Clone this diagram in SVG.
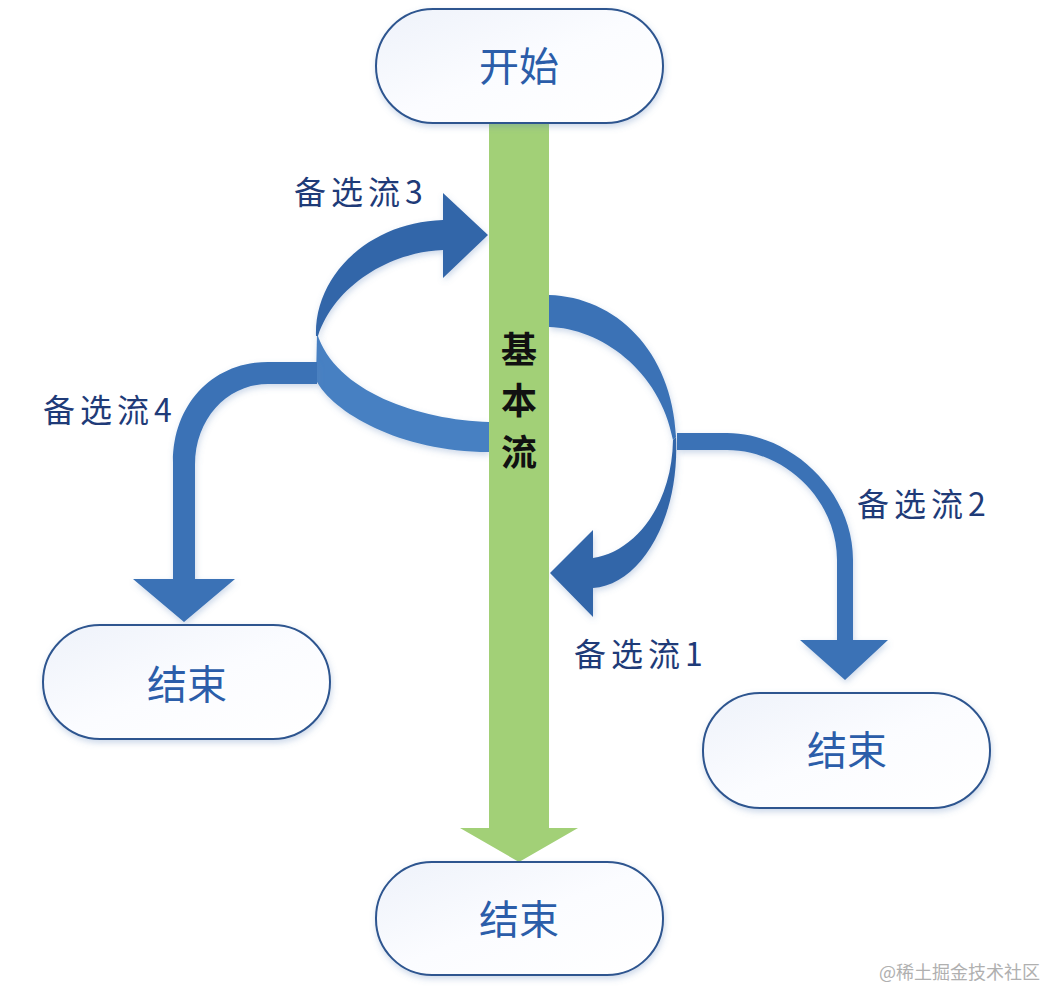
<svg xmlns="http://www.w3.org/2000/svg" width="1050" height="988" viewBox="0 0 1050 988">
  <defs>
    <style>
      .node rect { fill: url(#nodeFill); stroke: #2d558f; stroke-width: 2; filter: url(#soft); }
      .ntext { font-family: "Noto Sans CJK SC", "Noto Sans", sans-serif; font-size: 40px; fill: #2b5da9; text-anchor: middle; dominant-baseline: central; }
      .lbl { font-family: "Noto Sans CJK SC", "Noto Sans", sans-serif; font-size: 32px; fill: #1f3b78; letter-spacing: 5px; dominant-baseline: central; }
      .main { font-family: "Noto Sans CJK SC", "Noto Sans", sans-serif; font-size: 36px; font-weight: 600; fill: #111; text-anchor: middle; dominant-baseline: central; }
      .arr { fill: #3a72b6; filter: url(#soft); }
      .arrDark { fill: #3366a9; filter: url(#soft); }
      .arrLight { fill: #4680c2; filter: url(#soft); }
    </style>
    <linearGradient id="nodeFill" x1="0" y1="0" x2="1" y2="1">
      <stop offset="0" stop-color="#eef2fa"/>
      <stop offset="0.5" stop-color="#fbfcff"/>
      <stop offset="1" stop-color="#ffffff"/>
    </linearGradient>
    <filter id="soft" x="-20%" y="-20%" width="140%" height="140%">
      <feDropShadow dx="1" dy="3" stdDeviation="3" flood-color="#5b82b8" flood-opacity="0.3"/>
    </filter>
  </defs>
  <rect width="1050" height="988" fill="#ffffff"/>

  <g id="connectors">
    <!-- 备选流3 loop: lower band -->
    <path class="arrLight" d="M489,422 C420,420 335,392 317,333 L316,380 C332,412 400,452 489,452 Z"/>
    <!-- 备选流3 upper band with head -->
    <path class="arrDark" d="M316,336 C314,275 370,222 443,220 L443,193 L488,235 L443,278 L443,250 C390,252 335,285 318,336 Z"/>
    <!-- 备选流4 -->
    <path class="arr" d="M317,362 L268,362 C212,362 173,405 173,462 L173,579 L133,579 L184,622 L235,579 L195,579 L195,465 C195,418 228,384 268,384 L317,384 Z"/>
    <!-- 备选流1 upper part -->
    <path class="arr" d="M549,295 C615,297 672,350 676,437 L673,440 C660,370 600,328 549,327 Z"/>
    <!-- 备选流1 lower part with head -->
    <path class="arrDark" d="M676,437 C680,520 640,585 593,588 L593,617 L550,573 L593,530 L593,558 C635,552 672,505 673,440 Z"/>
    <!-- 备选流2 -->
    <path class="arr" d="M677,433 L727,433 C790,433 853,490 853,560 L853,640 L888,640 L845,680 L800,640 L837,640 L837,560 C837,500 785,450 727,450 L677,450 Z"/>
    <!-- 基本流 main green arrow -->
    <path id="mainflow" d="M489,123 L549,123 L549,828 L578,828 L519,862 L460,828 L489,828 Z" fill="#a2d077"/>
  </g>

  <g id="n-start" class="node">
    <rect x="376" y="9" width="287" height="114" rx="57"/>
    <text class="ntext" x="519" y="64">开始</text>
  </g>
  <g id="n-end-left" class="node">
    <rect x="43" y="625" width="287" height="114" rx="57"/>
    <text class="ntext" x="187" y="682">结束</text>
  </g>
  <g id="n-end-right" class="node">
    <rect x="703" y="693" width="287" height="115" rx="57"/>
    <text class="ntext" x="847" y="748">结束</text>
  </g>
  <g id="n-end-bottom" class="node">
    <rect x="376" y="862" width="287" height="113" rx="56"/>
    <text class="ntext" x="519" y="917">结束</text>
  </g>

  <g id="labels">
    <text class="main" x="519" y="347">基</text>
    <text class="main" x="519" y="398">本</text>
    <text class="main" x="519" y="450">流</text>
    <text class="lbl" x="294" y="190">备选流3</text>
    <text class="lbl" x="43" y="408">备选流4</text>
    <text class="lbl" x="857" y="502">备选流2</text>
    <text class="lbl" x="574" y="652">备选流1</text>
    <text x="1040" y="971" font-family="Noto Sans CJK SC, sans-serif" font-size="18" fill="#b0b0b0" text-anchor="end" dominant-baseline="central">@稀土掘金技术社区</text>
  </g>
</svg>
